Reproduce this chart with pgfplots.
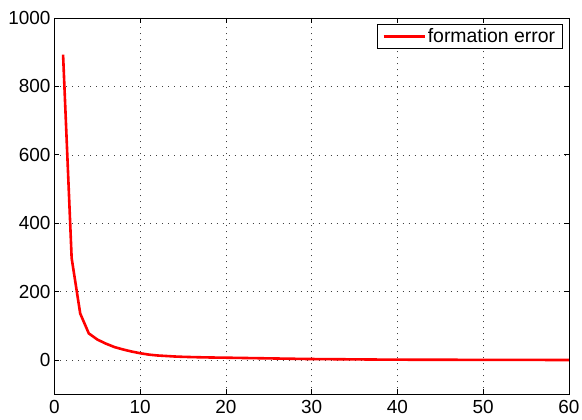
\documentclass[border=0pt]{standalone}
\usepackage{fontspec}
\setmainfont{Liberation Sans}
\usepackage{pgfplots}
\pgfplotsset{compat=1.18}

\begin{document}
\begin{tikzpicture}
\useasboundingbox (-54.5bp,-25.7bp) rectangle (527.5bp,394.3bp);
\begin{axis}[
  at={(0,0)}, anchor=south west,
  scale only axis,
  width=514.5bp, height=376.3bp,
  xmin=0, xmax=60, ymin=-100, ymax=1000,
  xtick={0,10,...,60},
  ytick={0,200,...,1000},
  tick align=inside,
  xtick pos=both, ytick pos=both,
  major tick length=5bp,
  axis line style={line width=0.8bp},
  every tick/.style={black, line width=0.8bp},
  grid=major,
  grid style={black!75, line width=0.6bp, dash pattern=on 0.8bp off 5.2bp},
  tick label style={font=\fontsize{19}{22}\selectfont},
  /pgf/number format/assume math mode=true,
  /pgf/number format/1000 sep={},
  xticklabel style={yshift=-2bp},
  yticklabel style={xshift=-0.5bp},
  legend style={at={(1,1)}, anchor=north east, xshift=-6.5bp, yshift=-6.3bp,
    font=\fontsize{19.5}{22}\selectfont, draw=black, line width=0.6bp,
    inner xsep=5bp, inner ysep=2bp},
  legend cell align=left,
  legend image code/.code={\draw[#1] (0bp,0bp) -- (41bp,0bp);},
]
\addplot[red, line width=2.6bp] coordinates {
(1,893)(2,298)(3,136)(4,78)(5,60)(6,48)(7,38)(8,31)(9,25)(10,20)
(11,16)(12,13.5)(13,12)(14,10.5)(15,9.5)(16,8.8)(17,8.2)(18,7.7)(19,7.3)(20,7)
(21,6.6)(22,6.2)(23,5.8)(24,5.4)(25,5)(26,4.6)(27,4.2)(28,3.8)(29,3.4)(30,3.1)
(31,2.9)(32,2.7)(33,2.5)(34,2.3)(35,2.1)(36,1.9)(37,1.7)(38,1.5)(39,1.3)(40,1.2)
(41,1.15)(42,1.1)(43,1.05)(44,1.0)(45,0.95)(46,0.9)(47,0.85)(48,0.8)(49,0.75)(50,0.7)
(51,0.66)(52,0.62)(53,0.58)(54,0.54)(55,0.5)(56,0.46)(57,0.42)(58,0.38)(59,0.34)(60,0.3)
};
\addlegendentry{formation error}
\end{axis}
\end{tikzpicture}
\end{document}
